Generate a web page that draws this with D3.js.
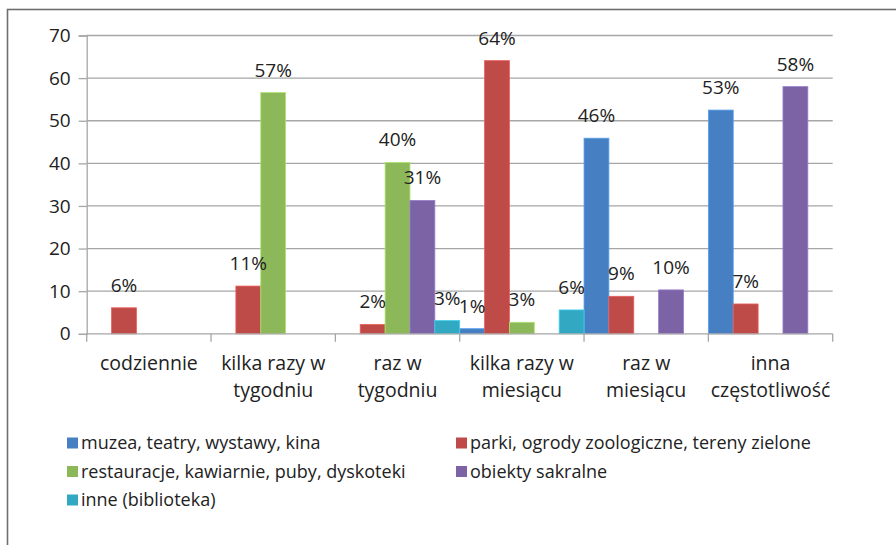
<!DOCTYPE html>
<html>
    <head>
        <meta charset="utf-8">
        <title>Częstotliwość odwiedzin</title>
        <script src="https://d3js.org/d3.v7.min.js"></script>
        <style>
         body { margin: 0; background: #fff; }
         svg { display: block; }
         text { font-family: "Open Sans", sans-serif; fill: #222; }
        </style>
    </head>
    <body>
        <svg width="896" height="545"></svg>

        <script>
         const categories = [
             ["codziennie"],
             ["kilka razy w", "tygodniu"],
             ["raz w", "tygodniu"],
             ["kilka razy w", "miesiącu"],
             ["raz w", "miesiącu"],
             ["inna", "częstotliwość"]
         ];
         const seriesNames = [
             "muzea, teatry, wystawy, kina",
             "parki, ogrody zoologiczne, tereny zielone",
             "restauracje, kawiarnie, puby, dyskoteki",
             "obiekty sakralne",
             "inne (biblioteka)"
         ];
         // one value per category, null = no bar
         const muzea       = [null, null, null, 1.2, 45.9, 52.5];
         const parki       = [6.1, 11.2, 2.2, 64.1, 8.8, 7.0];
         const restauracje = [null, 56.6, 40.2, 2.7, null, null];
         const sakralne    = [null, null, 31.3, null, 10.3, 58.0];
         const inne        = [null, null, 3.1, 5.6, null, null];
         const yTicks = [0, 10, 20, 30, 40, 50, 60, 70];

         const colors = ["#4680C2", "#BE4B48", "#8DB85A", "#7B63A5", "#33A8C2"];
         const series = [muzea, parki, restauracje, sakralne, inne];

         const svg = d3.select("svg");

         // outer frame (runs off right and bottom edge)
         svg.append("rect")
            .attr("x", 7.5).attr("y", 9.5)
            .attr("width", 950).attr("height", 600)
            .attr("fill", "none")
            .attr("stroke", "#6e6e6e")
            .attr("stroke-width", 1.6);

         const plot = {left: 86.7, right: 832.7, top: 35.5, bottom: 333.8};

         const x0 = d3.scaleBand()
                      .domain(d3.range(categories.length))
                      .range([plot.left, plot.right])
                      .padding(0);
         const x1 = d3.scaleBand()
                      .domain(d3.range(series.length))
                      .range([0, x0.bandwidth()])
                      .padding(0);
         const y = d3.scaleLinear().domain([0, 70]).range([plot.bottom, plot.top]);

         // gridlines
         svg.append("g")
            .selectAll("line")
            .data(yTicks.filter(d => d > 0))
            .join("line")
            .attr("x1", plot.left).attr("x2", plot.right)
            .attr("y1", d => y(d)).attr("y2", d => y(d))
            .attr("stroke", "#a6a6a6")
            .attr("stroke-width", 1.3);

         // y axis
         const yAxis = svg.append("g")
            .attr("transform", `translate(${plot.left},0)`)
            .call(d3.axisLeft(y).tickValues(yTicks).tickSize(8).tickPadding(8));
         yAxis.select(".domain").attr("stroke", "#a6a6a6").attr("stroke-width", 1.3);
         yAxis.selectAll(".tick line").attr("stroke", "#a6a6a6").attr("stroke-width", 1.3);
         yAxis.selectAll(".tick text")
              .attr("font-size", 19)
              .attr("font-family", "Open Sans, sans-serif")
              .attr("fill", "#222");

         // bars
         const bars = [];
         series.forEach((vals, s) => {
             vals.forEach((v, c) => {
                 if (v !== null) bars.push({c: c, s: s, v: v});
             });
         });

         svg.append("g")
            .selectAll("rect")
            .data(bars)
            .join("rect")
            .attr("x", d => x0(d.c) + x1(d.s))
            .attr("y", d => y(d.v))
            .attr("width", x1.bandwidth())
            .attr("height", d => y(0) - y(d.v))
            .attr("fill", d => colors[d.s])
            .attr("stroke", d => d3.color(colors[d.s]).brighter(0.6))
            .attr("stroke-width", 0.8);

         // x axis line and ticks at category edges
         svg.append("line")
            .attr("x1", plot.left).attr("x2", plot.right)
            .attr("y1", y(0)).attr("y2", y(0))
            .attr("stroke", "#a6a6a6").attr("stroke-width", 1.3);
         svg.append("g")
            .selectAll("line")
            .data(d3.range(categories.length + 1))
            .join("line")
            .attr("x1", d => plot.left + d * x0.step())
            .attr("x2", d => plot.left + d * x0.step())
            .attr("y1", y(0)).attr("y2", y(0) + 8)
            .attr("stroke", "#a6a6a6").attr("stroke-width", 1.3);

         // category labels
         svg.append("g")
            .selectAll("text")
            .data(categories)
            .join("text")
            .attr("text-anchor", "middle")
            .attr("font-size", 19.5)
            .attr("y", 370)
            .each(function (lines, i) {
                d3.select(this).selectAll("tspan")
                  .data(lines)
                  .join("tspan")
                  .attr("x", x0(i) + x0.bandwidth() / 2)
                  .attr("dy", (d, j) => j === 0 ? 0 : 26.5)
                  .text(d => d);
            });

         // data labels
         svg.append("g")
            .selectAll("text")
            .data(bars)
            .join("text")
            .attr("text-anchor", "middle")
            .attr("font-size", 19)
            .attr("x", d => x0(d.c) + x1(d.s) + x1.bandwidth() / 2)
            .attr("y", d => y(d.v) - 16)
            .text(d => Math.round(d.v) + "%");

         // legend
         const legend = svg.append("g")
            .selectAll("g")
            .data(seriesNames)
            .join("g")
            .attr("transform", (d, i) => `translate(${i % 2 === 0 ? 67 : 456},${443 + Math.floor(i / 2) * 28.5})`);
         legend.append("rect")
               .attr("x", 0).attr("y", -5.5)
               .attr("width", 11).attr("height", 11)
               .attr("fill", (d, i) => colors[i]);
         legend.append("text")
               .attr("x", 14)
               .attr("dy", "0.35em")
               .attr("font-size", 18)
               .text(d => d);
        </script>
    </body>
</html>
